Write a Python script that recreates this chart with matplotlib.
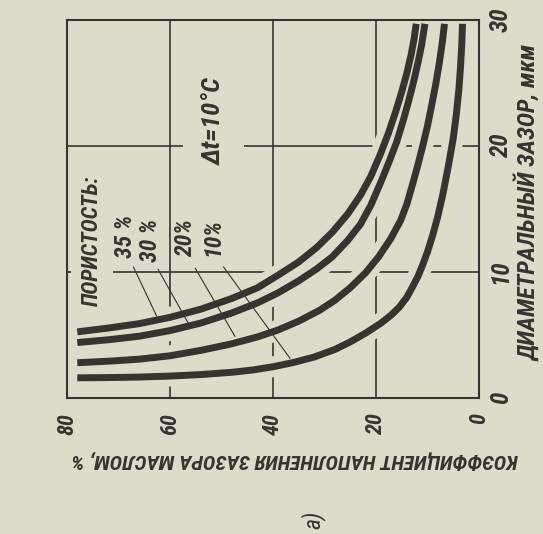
import matplotlib
matplotlib.use('Agg')
import matplotlib.pyplot as plt  # noqa: E402
from matplotlib import font_manager  # noqa: E402

# коэффициент наполнения зазора маслом, %  ->  диаметральный зазор, мкм
fill_35 = [78, 72, 66, 60, 54, 48, 43, 39, 35, 31.5, 28.5, 25.5, 23, 21, 19.2, 17.6, 16.2, 15.0, 14.0, 13.2, 12.6, 12.2]
gap_35 = [5.25, 5.55, 5.9, 6.4, 7.05, 7.9, 8.75, 9.75, 10.8, 11.95, 13.15, 14.6, 16.1, 17.6, 19.3, 21.0, 22.7, 24.3,
          25.8, 27.2, 28.5, 29.7]

fill_30 = [78, 72, 66, 60, 54, 48, 43, 39, 35, 31.5, 28.5, 25.5, 23, 21, 19.2, 17.5, 16, 14.8, 13.7, 12.7, 11.8, 11.1,
           10.5]
gap_30 = [4.4, 4.62, 4.9, 5.35, 5.95, 6.75, 7.55, 8.35, 9.3, 10.25, 11.2, 12.5, 13.8, 15.3, 17.0, 18.7, 20.3, 21.9,
          23.5, 25.1, 26.7, 28.1, 29.7]

fill_20 = [78, 72, 66, 60, 54, 48, 43, 39, 35, 31, 28, 25, 22, 19.5, 17.2, 15.2, 14.0, 12.8, 11.8, 10.8, 10.0, 9.2, 8.4,
           7.7, 7.1, 6.7]
gap_20 = [2.8, 2.92, 3.08, 3.35, 3.78, 4.3, 4.85, 5.4, 6.1, 6.95, 7.75, 8.75, 9.95, 11.2, 12.6, 14.1, 15.4, 17.1, 18.6,
          20.2, 21.6, 23.2, 24.9, 26.6, 28.3, 29.7]

fill_10 = [78, 72, 66, 60, 54, 48, 44, 40, 36, 32, 28, 25, 22, 19, 17, 15.5, 14, 12.8, 11.8, 11.0, 10.0, 9.0, 8.0, 7.0,
           6.0, 5.0, 4.4, 3.9, 3.6, 3.35, 3.2]
gap_10 = [1.6, 1.62, 1.66, 1.74, 1.86, 2.04, 2.22, 2.48, 2.82, 3.25, 3.85, 4.45, 5.15, 5.95, 6.6, 7.2, 8.0, 8.9, 9.7,
          10.5, 11.6, 12.9, 14.4, 16.2, 18.3, 20.6, 22.5, 24.5, 26.2, 28.0, 29.7]

curves = [(fill_35, gap_35), (fill_30, gap_30), (fill_20, gap_20), (fill_10, gap_10)]

labels = ['35 %', '30 %', '20%', '10%']
label_pos = [(68.6, 12.8), (63.7, 12.5), (56.9, 12.7), (51.7, 12.8)]
# выноски: (x0, y0, x1, y1)
leaders = [(67.1, 10.4, 62.6, 6.5), (62.3, 10.2, 56.4, 5.9),
           (55.1, 10.3, 47.4, 4.9), (49.6, 10.4, 36.7, 3.15)]

x_ticks = [80, 60, 40, 20, 0]
y_ticks = [0, 10, 20, 30]

bg = '#dedbcb'
ink = '#38332e'


def is_narrow(f):
    s = f.stretch
    if isinstance(s, str):
        return 'condensed' in s
    return s < 500


fam, stretch = 'DejaVu Sans', 'normal'
for name in ['Liberation Sans Narrow', 'Roboto Condensed', 'DejaVu Sans', 'Noto Sans', 'Open Sans']:
    if 'Narrow' in name and any(f.name == name for f in font_manager.fontManager.ttflist):
        fam, stretch = name, 'normal'
        break
    if any(f.name == name and is_narrow(f) for f in font_manager.fontManager.ttflist):
        fam, stretch = name, 'condensed'
        break

plt.rcParams['font.family'] = [fam, 'DejaVu Sans']
tf = dict(fontfamily=[fam, 'DejaVu Sans'], fontstretch=stretch, fontweight='bold', style='italic', color=ink)

fig = plt.figure(figsize=(5.43, 5.34), dpi=100, facecolor=bg)
ax = fig.add_axes([0.1234, 0.2547, 0.7587, 0.7078], facecolor=bg)

ax.set_xlim(80, 0)
ax.set_ylim(0, 30)

for v in [60, 40, 20]:
    ax.axvline(v, color=ink, lw=1.2, zorder=1)
for h in [10, 20]:
    ax.axhline(h, color=ink, lw=1.2, zorder=1)

# просветы в сетке вокруг кривых
for xs, ys in curves:
    ax.plot(xs, ys, color=bg, lw=15, solid_capstyle='butt', zorder=2.1)
for xs, ys in curves:
    ax.plot(xs, ys, color=ink, lw=5, solid_capstyle='butt', solid_joinstyle='round', zorder=3)

for x0, y0, x1, y1 in leaders:
    ax.plot([x0, x1], [y0, y1], color=ink, lw=0.8, zorder=3)

for s, (x, y) in zip(labels, label_pos):
    ax.text(x, y, s, rotation=90, ha='center', va='center', fontsize=17, zorder=4, **tf)

t_por = ax.text(75.1, 12.5, 'ПОРИСТОСТЬ:', rotation=90, ha='center', va='center', fontsize=14, zorder=4,
                bbox=dict(boxstyle='square,pad=0.45', fc=bg, ec='none'), **tf)
ax.text(51.5, 21.9, 'Δt=10°C', rotation=90, ha='center', va='center', fontsize=19, zorder=4,
        bbox=dict(boxstyle='square,pad=0.7', fc=bg, ec='none'), **tf)

for sp in ax.spines.values():
    sp.set_color(ink)
    sp.set_linewidth(1.5)

ax.set_xticks(x_ticks)
ax.set_xticklabels([str(t) for t in x_ticks], rotation=90, fontsize=16, **tf)
ax.yaxis.tick_right()
ax.set_yticks(y_ticks)
ax.set_yticklabels([str(t) for t in y_ticks], rotation=90, va='center', fontsize=18, **tf)
ax.tick_params(axis='x', length=0, pad=11)
ax.tick_params(axis='y', length=0, pad=7)

t_right = fig.text(0.972, 0.620, 'ДИАМЕТРАЛЬНЫЙ ЗАЗОР, мкм', rotation=90, ha='center', va='center',
                   fontsize=17, **tf)
t_bottom = fig.text(0.543, 0.139, 'КОЭФФИЦИЕНТ НАПОЛНЕНИЯ ЗАЗОРА МАСЛОМ, %', rotation=180,
                    ha='center', va='center', fontsize=15, **tf)
fig.text(0.576, 0.026, 'а)', rotation=90, ha='center', va='center', fontsize=17,
         style='italic', color=ink)

# подогнать длину длинных надписей под оригинал
renderer = fig.canvas.get_renderer()
for t, target, vertical in [(t_right, 317, True), (t_bottom, 448, False), (t_por, 132, True)]:
    bb = t.get_window_extent(renderer)
    cur = bb.height if vertical else bb.width
    if t is t_por:
        t.set_bbox(None)
        cur = t.get_window_extent(renderer).height
        t.set_fontsize(min(16, t.get_fontsize() * target / cur))
        t.set_bbox(dict(boxstyle='square,pad=0.45', fc=bg, ec='none'))
    else:
        t.set_fontsize(min(20, t.get_fontsize() * target / cur))

fig.savefig('out.png', dpi=100, facecolor=bg)
